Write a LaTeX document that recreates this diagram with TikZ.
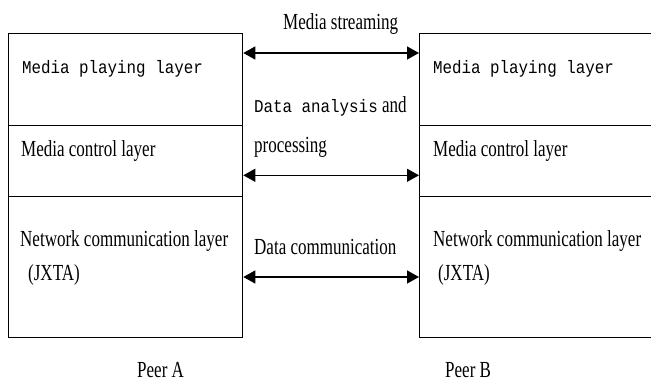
\documentclass[tikz,border=0pt]{standalone}
\usepackage{fontspec}
\setmainfont[FakeStretch=0.74]{Liberation Serif}
\newfontfamily\layermono[FakeStretch=0.88]{Liberation Mono}
\usetikzlibrary{arrows.meta}

\begin{document}
\begin{tikzpicture}[
            x=1pt, y=-1pt,
            layer/.style={
                rectangle,
                draw,
                line width=1.3pt,
                minimum width=234pt,
                anchor=north west,
                inner sep=0pt
            },
            txt/.style={
                font=\fontsize{23}{26}\selectfont,
                anchor=base west,
                inner sep=0pt
            },
            mono/.style={
                font=\layermono\fontsize{18}{20}\selectfont,
                anchor=base west,
                inner sep=0pt
            },
            link/.style={
                {Triangle[length=12pt,width=13pt]}-{Triangle[length=12pt,width=13pt]},
                line width=1.3pt
            }
        ]

        \clip (0,0) rectangle (651,382);
        \fill[white] (0,0) rectangle (651,382);

        % peer A
        \node[layer, minimum height=92pt] (playA) at (8,33) {};
        \node[layer, minimum height=71pt] (ctrlA) at (8,125) {};
        \node[layer, minimum height=141pt] (netA) at (8,196) {};
        \node[mono] (playA-t) at (22,74) {Media playing layer};
        \node[txt] (ctrlA-t) at (21,157) {Media control layer};
        \node[txt] (netA-t) at (20,247) {Network communication layer};
        \node[txt] (jxtaA-t) at (28,280) {(JXTA)};
        \node[txt] (peerA) at (137,377) {Peer A};

        % peer B
        \node[layer, minimum height=92pt] (playB) at (419,33) {};
        \node[layer, minimum height=71pt] (ctrlB) at (419,125) {};
        \node[layer, minimum height=141pt] (netB) at (419,196) {};
        \node[mono] (playB-t) at (433,74) {Media playing layer};
        \node[txt] (ctrlB-t) at (433,157) {Media control layer};
        \node[txt] (netB-t) at (433,247) {Network communication layer};
        \node[txt] (jxtaB-t) at (438,280) {(JXTA)};
        \node[txt] (peerB) at (445,377) {Peer B};

        % lines
        \draw[link] ([yshift=-20pt]playA.north east) -- ([yshift=-20pt]playB.north west);
        \draw[link] ([yshift=22pt]ctrlA.south east) -- ([yshift=22pt]ctrlB.south west);
        \draw[link] ([yshift=-81pt]netA.north east) -- ([yshift=-81pt]netB.north west);

        % labels
        \node[txt] (stream) at (283,30) {Media streaming};
        \node[txt] (analysis) at (254,113) {{\layermono\fontsize{18}{20}\selectfont Data analysis} and};
        \node[txt] (proc) at (254,153) {processing};
        \node[txt] (comm) at (254,255) {Data communication};
    \end{tikzpicture}
\end{document}
